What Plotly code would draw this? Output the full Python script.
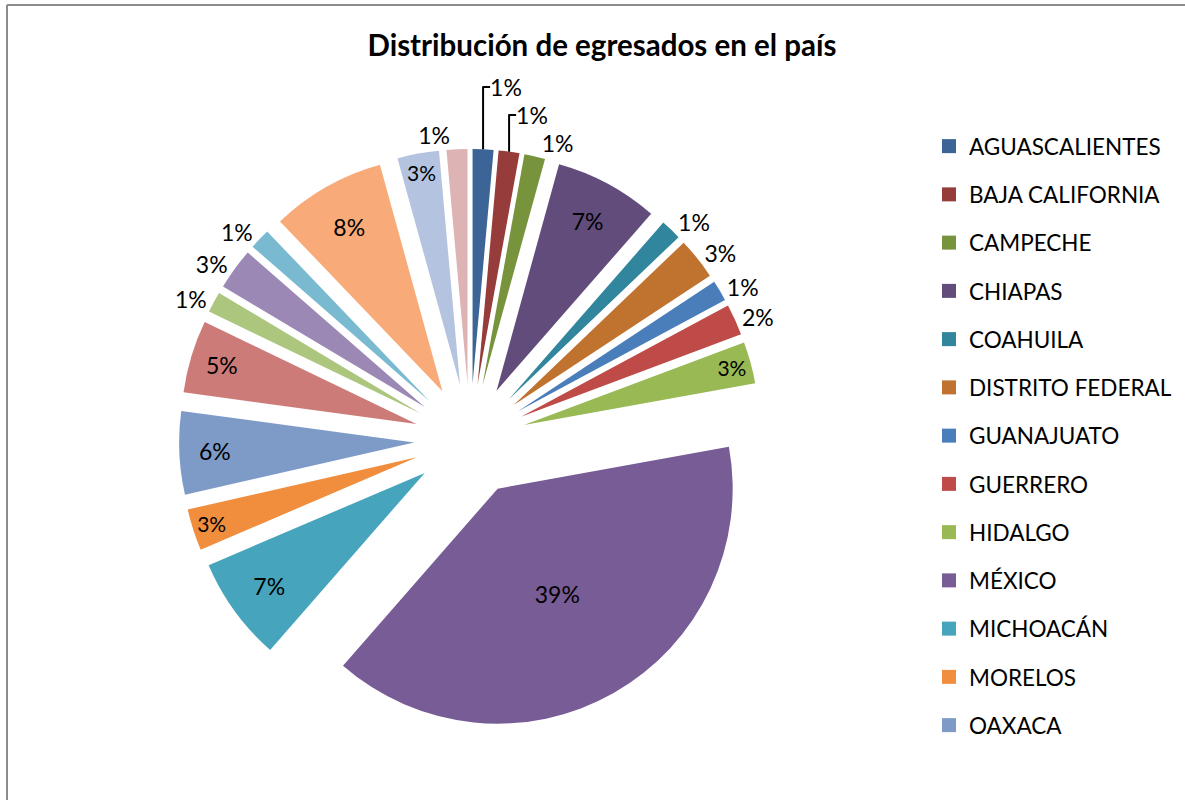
import plotly.graph_objects as go

# Data (counts; percentages computed by the chart)
states = ["AGUASCALIENTES", "BAJA CALIFORNIA", "CAMPECHE", "CHIAPAS", "COAHUILA",
          "DISTRITO FEDERAL", "GUANAJUATO", "GUERRERO", "HIDALGO", "MÉXICO",
          "MICHOACÁN", "MORELOS", "OAXACA", "PUEBLA", "QUERÉTARO",
          "SAN LUIS POTOSÍ", "SONORA", "TABASCO", "VERACRUZ", "ZACATECAS"]
graduates = [2, 2, 2, 10, 2, 4, 2, 3, 4, 55, 10, 4, 8, 7, 2, 4, 2, 11, 4, 2]
colors = ["#3C6496", "#963C3A", "#77933C", "#624C7C", "#31859C", "#C0722F",
          "#4A7EBB", "#BE4B48", "#98B954", "#775C96", "#46A4BC", "#F08E3E",
          "#7E9BC8", "#CD7B79", "#ADC67E", "#9C88B5", "#79BAD0", "#F8AB78",
          "#B4C3DF", "#DDB3B3"]
text_pos = ["outside", "outside", "outside", "inside", "outside",
            "outside", "outside", "outside", "inside", "inside",
            "inside", "inside", "inside", "inside", "outside",
            "outside", "outside", "inside", "inside", "outside"]
legend_count = 13  # the original legend is cut off after OAXACA

title_text = "Distribución de egresados en el país"
FONT = "Lato"

fig = go.Figure()
fig.add_trace(go.Pie(
    labels=states,
    values=graduates,
    sort=False,
    direction="clockwise",
    rotation=0,
    pull=0.238,
    marker=dict(colors=colors, line=dict(width=0)),
    texttemplate="%{percent:.0%}",
    textposition=text_pos,
    insidetextorientation="horizontal",
    textfont=dict(family=FONT, size=23, color="black"),
    insidetextfont=dict(family=FONT, size=23, color="black"),
    outsidetextfont=dict(family=FONT, size=23, color="black"),
    domain=dict(x=[0.1511, 0.6422], y=[0.08625, 0.81375]),
    showlegend=False,
    hoverinfo="label+percent",
))

for i in range(legend_count):
    fig.add_trace(go.Scatter(
        x=[None], y=[None], mode="markers", name=states[i],
        legendgroup=states[i],
        marker=dict(symbol="square", size=14, color=colors[i]),
        showlegend=True,
    ))

border = dict(color="#8C8C8C", width=2)
fig.update_layout(
    width=1185, height=800,
    margin=dict(l=0, r=0, t=0, b=0, autoexpand=False),
    paper_bgcolor="white", plot_bgcolor="white",
    xaxis=dict(visible=False), yaxis=dict(visible=False),
    title=dict(text="<b>" + title_text + "</b>", x=602 / 1185, xanchor="center",
               y=1 - 46 / 800, yanchor="middle",
               font=dict(family=FONT, size=29.5, color="black")),
    legend=dict(x=929 / 1185, xanchor="left", y=1 - 125 / 800, yanchor="top",
                font=dict(family=FONT, size=22.5, color="black"),
                tracegroupgap=16, itemsizing="trace",
                bgcolor="rgba(0,0,0,0)"),
    shapes=[
        dict(type="line", xref="paper", yref="paper",
             x0=7 / 1185, x1=1.2, y0=1 - 5 / 800, y1=1 - 5 / 800, line=border),
        dict(type="line", xref="paper", yref="paper",
             x0=7 / 1185, x1=7 / 1185, y0=-0.2, y1=1 - 5 / 800, line=border),
    ],
)

fig.write_html("out.html",
               config={"displayModeBar": False},
               post_script="document.body.style.margin='0';"
                           "document.body.style.overflow='hidden';"
                           "document.documentElement.style.overflow='hidden';")
